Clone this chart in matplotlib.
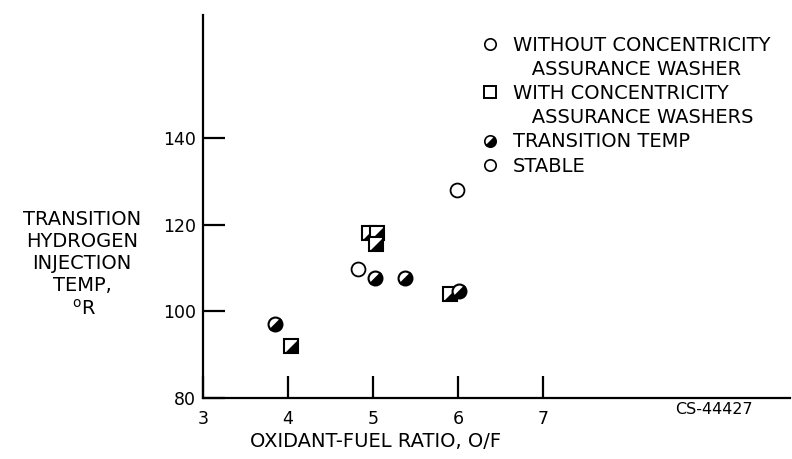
import numpy as np
import matplotlib
matplotlib.use('Agg')
import matplotlib.pyplot as plt
from matplotlib.markers import MarkerStyle
from matplotlib.transforms import Affine2D
from matplotlib.lines import Line2D

# circles: without concentricity assurance washer
stable_x = [4.82, 5.99]
stable_y = [109.8, 128.0]
trans_x = [3.85, 5.02, 5.38, 6.01]
trans_y = [97.1, 107.7, 107.7, 104.7]
# squares: with concentricity assurance washers (transition)
washer_x = [4.04, 4.95, 5.05, 5.04, 5.91]
washer_y = [92.0, 118.1, 118.1, 115.6, 104.0]

xticks = [3, 4, 5, 6, 7]
yticks = [80, 100, 120, 140]

legend_labels = ['WITHOUT CONCENTRICITY', '   ASSURANCE WASHER',
                 'WITH CONCENTRICITY', '   ASSURANCE WASHERS',
                 'TRANSITION TEMP', 'STABLE']

plt.rcParams['font.family'] = 'DejaVu Sans'
plt.rcParams['mathtext.fontset'] = 'dejavusans'

half_circle = MarkerStyle('o', fillstyle='bottom',
                          transform=Affine2D().rotate_deg(45))
half_tri = [(-1, -1), (1, -1), (1, 1)]

fig = plt.figure(figsize=(7.92, 4.59), dpi=100)
ax = fig.add_axes([0.2563, 0.1329, 0.741, 0.8344])
ax.set_xlim(3, 9.9)
ax.set_ylim(80, 168.5)

ms = 10
# squares: open square + filled lower-right triangle
for x, y in zip(washer_x, washer_y):
    ax.plot([x], [y], ls='none', marker='s', ms=ms, mfc='white',
            mec='black', mew=1.5, zorder=3)
    ax.plot([x], [y], ls='none', marker=half_tri, ms=ms, mfc='black',
            mec='black', mew=0.5, zorder=3)
ax.plot(trans_x, trans_y, ls='none', marker=half_circle, ms=ms,
        mfc='black', mfcalt='white', mec='black', mew=1.5, zorder=4)
ax.plot(stable_x, stable_y, ls='none', marker='o', ms=ms,
        mfc='white', mec='black', mew=1.3, zorder=4)

for s in ['top', 'right']:
    ax.spines[s].set_visible(False)
for s in ['left', 'bottom']:
    ax.spines[s].set_linewidth(1.6)

ax.set_xticks(xticks)
ax.set_yticks(yticks)
ax.tick_params(axis='both', direction='in', length=16, width=1.6,
               labelsize=12.5)
ax.tick_params(axis='x', pad=9)
ax.tick_params(axis='y', pad=5)

ax.set_xlabel('OXIDANT-FUEL RATIO, O/F', fontsize=14)
ax.xaxis.set_label_coords(0.2947, -0.09)

ax.set_ylabel('TRANSITION\nHYDROGEN\nINJECTION\nTEMP,', rotation=0,
              fontsize=14, ha='center', va='center', linespacing=1.2)
ax.yaxis.set_label_coords(-0.206, 0.381)
ax.text(-0.203, 0.232, r'$^{\mathrm{o}}$R', transform=ax.transAxes,
        fontsize=14, ha='center', va='center')

ax.text(0.805, -0.03, 'CS-44427', transform=ax.transAxes, fontsize=11.5,
        ha='left', va='center')

lms = 8.2
handles = [
    Line2D([], [], ls='none', marker='o', ms=lms, mfc='white',
           mec='black', mew=1.2),
    Line2D([], [], ls='none'),
    Line2D([], [], ls='none', marker='s', ms=lms, mfc='white',
           mec='black', mew=1.4),
    Line2D([], [], ls='none'),
    Line2D([], [], ls='none', marker=half_circle, ms=lms, mfc='black',
           mfcalt='white', mec='black', mew=1.2),
    Line2D([], [], ls='none', marker='o', ms=lms, mfc='white',
           mec='black', mew=1.2),
]
fig.legend(handles, legend_labels, loc='upper left',
           bbox_to_anchor=(0.609, 0.922), frameon=False, fontsize=14,
           handlelength=0.8, handletextpad=0.78, labelspacing=0.265,
           borderpad=0, borderaxespad=0)

fig.savefig('out.png', dpi=100)
